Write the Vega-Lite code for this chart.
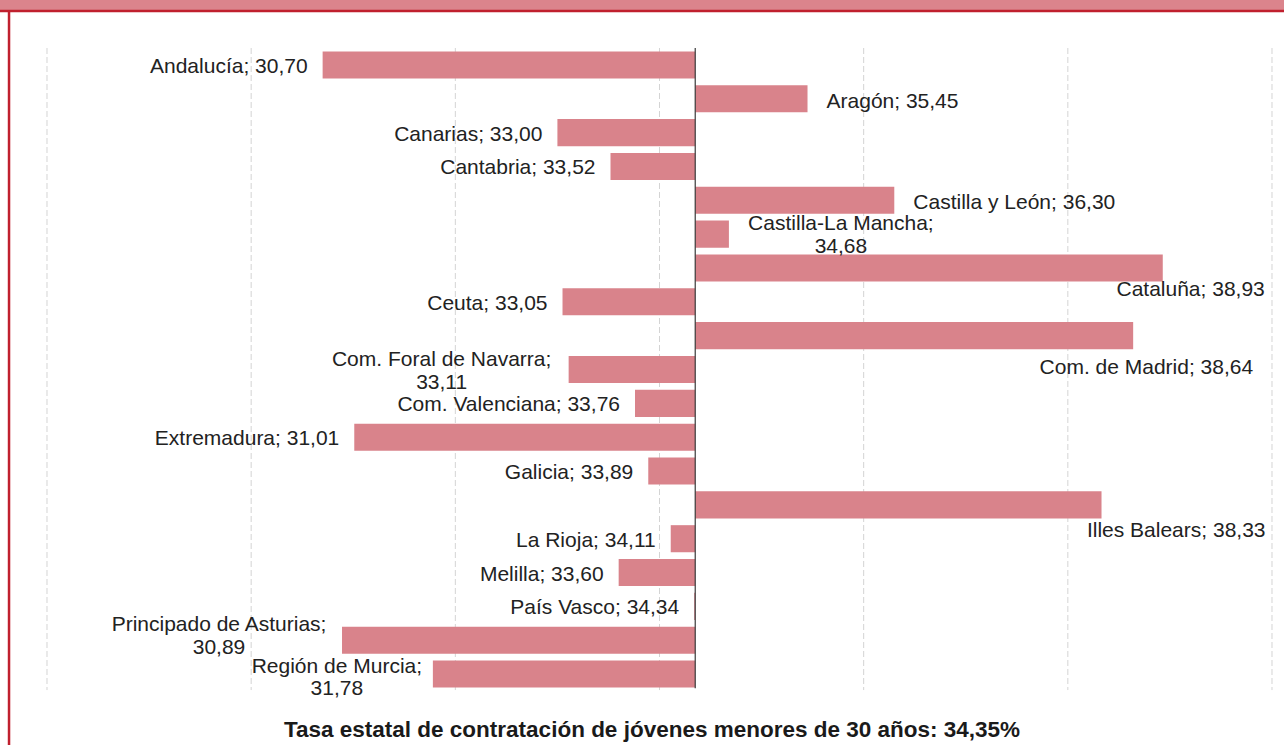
{
  "$schema": "https://vega.github.io/schema/vega-lite/v6.json",
  "width": 1284,
  "height": 734,
  "autosize": {"type": "none"},
  "padding": {"left": 0, "top": 11, "right": 0, "bottom": 0},
  "background": "#db848c",
  "config": {"view": {"fill": "#ffffff", "stroke": null}},
  "title": {
    "text": "Tasa estatal de contratación de jóvenes menores de 30 años: 34,35%",
    "orient": "bottom",
    "offset": -16,
    "baseline": "middle",
    "anchor": "middle",
    "frame": "group",
    "dx": 10,
    "font": "Liberation Sans",
    "fontSize": 22.5,
    "fontWeight": "bold",
    "color": "#1a1a1a"
  },
  "datasets": {
    "regions": [
      {"region": "Andalucía", "value": 30.70, "label": "Andalucía; 30,70"},
      {"region": "Aragón", "value": 35.45, "label": "Aragón; 35,45"},
      {"region": "Canarias", "value": 33.00, "label": "Canarias; 33,00"},
      {"region": "Cantabria", "value": 33.52, "label": "Cantabria; 33,52"},
      {"region": "Castilla y León", "value": 36.30, "label": "Castilla y León; 36,30"},
      {"region": "Castilla-La Mancha", "value": 34.68, "label": "Castilla-La Mancha;\n34,68"},
      {"region": "Cataluña", "value": 38.93, "label": "Cataluña; 38,93"},
      {"region": "Ceuta", "value": 33.05, "label": "Ceuta; 33,05"},
      {"region": "Com. de Madrid", "value": 38.64, "label": "Com. de Madrid; 38,64"},
      {"region": "Com. Foral de Navarra", "value": 33.11, "label": "Com. Foral de Navarra;\n33,11"},
      {"region": "Com. Valenciana", "value": 33.76, "label": "Com. Valenciana; 33,76"},
      {"region": "Extremadura", "value": 31.01, "label": "Extremadura; 31,01"},
      {"region": "Galicia", "value": 33.89, "label": "Galicia; 33,89"},
      {"region": "Illes Balears", "value": 38.33, "label": "Illes Balears; 38,33"},
      {"region": "La Rioja", "value": 34.11, "label": "La Rioja; 34,11"},
      {"region": "Melilla", "value": 33.60, "label": "Melilla; 33,60"},
      {"region": "País Vasco", "value": 34.34, "label": "País Vasco; 34,34"},
      {"region": "Principado de Asturias", "value": 30.89, "label": "Principado de Asturias;\n30,89"},
      {"region": "Región de Murcia", "value": 31.78, "label": "Región de Murcia;\n31,78"}
    ],
    "grid": [{"g": 28}, {"g": 30}, {"g": 32}, {"g": 34}, {"g": 36}, {"g": 38}, {"g": 40}]
  },
  "data": {"name": "regions"},
  "layer": [
    {
      "data": {"name": "grid"},
      "mark": {"type": "rule", "stroke": "#d4d4d4", "strokeWidth": 1, "strokeDash": [6, 3]},
      "encoding": {
        "x": {"field": "g", "type": "quantitative", "axis": null, "scale": {"domain": [27.5396, 40.1176], "nice": false, "zero": false}},
        "y": {"datum": "Andalucía", "type": "nominal", "bandPosition": -0.125, "axis": null, "scale": {"domain": ["Andalucía", "Aragón", "Canarias", "Cantabria", "Castilla y León", "Castilla-La Mancha", "Cataluña", "Ceuta", "Com. de Madrid", "Com. Foral de Navarra", "Com. Valenciana", "Extremadura", "Galicia", "Illes Balears", "La Rioja", "Melilla", "País Vasco", "Principado de Asturias", "Región de Murcia"], "range": [37, 680], "paddingInner": 0.2, "paddingOuter": 0.1}},
        "y2": {"datum": "Región de Murcia", "bandPosition": 1.09}
      }
    },
    {
      "data": {"values": [{}]},
      "mark": {"type": "rule", "stroke": "#c0202e", "strokeWidth": 2.5},
      "encoding": {
        "x": {"datum": 27.628, "type": "quantitative", "axis": null, "scale": {"domain": [27.5396, 40.1176], "nice": false, "zero": false}}
      }
    },
    {
      "data": {"values": [{}]},
      "mark": {"type": "rule", "stroke": "#c0202e", "strokeWidth": 2.5},
      "encoding": {
        "y": {"datum": "Andalucía", "type": "nominal", "bandPosition": -1.492, "axis": null, "scale": {"domain": ["Andalucía", "Aragón", "Canarias", "Cantabria", "Castilla y León", "Castilla-La Mancha", "Cataluña", "Ceuta", "Com. de Madrid", "Com. Foral de Navarra", "Com. Valenciana", "Extremadura", "Galicia", "Illes Balears", "La Rioja", "Melilla", "País Vasco", "Principado de Asturias", "Región de Murcia"], "range": [37, 680], "paddingInner": 0.2, "paddingOuter": 0.1}}
      }
    },
    {
      "mark": {"type": "bar", "color": "#d9838b"},
      "encoding": {
        "x": {"field": "value", "type": "quantitative", "axis": null, "scale": {"domain": [27.5396, 40.1176], "nice": false, "zero": false}},
        "x2": {"datum": 34.35},
        "y": {"field": "region", "type": "nominal", "sort": null, "axis": null, "scale": {"domain": ["Andalucía", "Aragón", "Canarias", "Cantabria", "Castilla y León", "Castilla-La Mancha", "Cataluña", "Ceuta", "Com. de Madrid", "Com. Foral de Navarra", "Com. Valenciana", "Extremadura", "Galicia", "Illes Balears", "La Rioja", "Melilla", "País Vasco", "Principado de Asturias", "Región de Murcia"], "range": [37, 680], "paddingInner": 0.2, "paddingOuter": 0.1}}
      }
    },
    {
      "data": {"values": [{}]},
      "mark": {"type": "rule", "stroke": "#3a3a3a", "strokeWidth": 1.2},
      "encoding": {
        "x": {"datum": 34.35, "type": "quantitative", "axis": null, "scale": {"domain": [27.5396, 40.1176], "nice": false, "zero": false}},
        "y": {"datum": "Andalucía", "type": "nominal", "bandPosition": -0.125, "axis": null, "scale": {"domain": ["Andalucía", "Aragón", "Canarias", "Cantabria", "Castilla y León", "Castilla-La Mancha", "Cataluña", "Ceuta", "Com. de Madrid", "Com. Foral de Navarra", "Com. Valenciana", "Extremadura", "Galicia", "Illes Balears", "La Rioja", "Melilla", "País Vasco", "Principado de Asturias", "Región de Murcia"], "range": [37, 680], "paddingInner": 0.2, "paddingOuter": 0.1}},
        "y2": {"datum": "Región de Murcia", "bandPosition": 1.02}
      }
    },
    {
      "transform": [{"filter": {"field": "region", "oneOf": ["Andalucía", "Canarias", "Cantabria", "Ceuta", "Com. Valenciana", "Extremadura", "Galicia", "La Rioja", "Melilla", "País Vasco"]}}],
      "mark": {"type": "text", "align": "right", "baseline": "middle", "dx": -15, "dy": 2, "font": "Liberation Sans", "fontSize": 21, "fill": "#222222"},
      "encoding": {
        "x": {"field": "value", "type": "quantitative", "axis": null, "scale": {"domain": [27.5396, 40.1176], "nice": false, "zero": false}},
        "y": {"field": "region", "type": "nominal", "sort": null, "axis": null, "scale": {"domain": ["Andalucía", "Aragón", "Canarias", "Cantabria", "Castilla y León", "Castilla-La Mancha", "Cataluña", "Ceuta", "Com. de Madrid", "Com. Foral de Navarra", "Com. Valenciana", "Extremadura", "Galicia", "Illes Balears", "La Rioja", "Melilla", "País Vasco", "Principado de Asturias", "Región de Murcia"], "range": [37, 680], "paddingInner": 0.2, "paddingOuter": 0.1}},
        "text": {"field": "label"}
      }
    },
    {
      "transform": [{"filter": {"field": "region", "oneOf": ["Aragón", "Castilla y León"]}}],
      "mark": {"type": "text", "align": "left", "baseline": "middle", "dx": 19, "dy": 3, "font": "Liberation Sans", "fontSize": 21, "fill": "#222222"},
      "encoding": {
        "x": {"field": "value", "type": "quantitative", "axis": null, "scale": {"domain": [27.5396, 40.1176], "nice": false, "zero": false}},
        "y": {"field": "region", "type": "nominal", "sort": null, "axis": null, "scale": {"domain": ["Andalucía", "Aragón", "Canarias", "Cantabria", "Castilla y León", "Castilla-La Mancha", "Cataluña", "Ceuta", "Com. de Madrid", "Com. Foral de Navarra", "Com. Valenciana", "Extremadura", "Galicia", "Illes Balears", "La Rioja", "Melilla", "País Vasco", "Principado de Asturias", "Región de Murcia"], "range": [37, 680], "paddingInner": 0.2, "paddingOuter": 0.1}},
        "text": {"field": "label"}
      }
    },
    {
      "transform": [{"filter": {"field": "region", "equal": "Castilla-La Mancha"}}],
      "mark": {"type": "text", "align": "center", "baseline": "middle", "dx": 112, "dy": -10, "lineBreak": "\n", "lineHeight": 22.5, "font": "Liberation Sans", "fontSize": 21, "fill": "#222222"},
      "encoding": {
        "x": {"field": "value", "type": "quantitative", "axis": null, "scale": {"domain": [27.5396, 40.1176], "nice": false, "zero": false}},
        "y": {"field": "region", "type": "nominal", "sort": null, "axis": null, "scale": {"domain": ["Andalucía", "Aragón", "Canarias", "Cantabria", "Castilla y León", "Castilla-La Mancha", "Cataluña", "Ceuta", "Com. de Madrid", "Com. Foral de Navarra", "Com. Valenciana", "Extremadura", "Galicia", "Illes Balears", "La Rioja", "Melilla", "País Vasco", "Principado de Asturias", "Región de Murcia"], "range": [37, 680], "paddingInner": 0.2, "paddingOuter": 0.1}},
        "text": {"field": "label"}
      }
    },
    {
      "transform": [{"filter": {"field": "region", "equal": "Com. Foral de Navarra"}}],
      "mark": {"type": "text", "align": "center", "baseline": "middle", "dx": -127, "dy": -10, "lineBreak": "\n", "lineHeight": 23, "font": "Liberation Sans", "fontSize": 21, "fill": "#222222"},
      "encoding": {
        "x": {"field": "value", "type": "quantitative", "axis": null, "scale": {"domain": [27.5396, 40.1176], "nice": false, "zero": false}},
        "y": {"field": "region", "type": "nominal", "sort": null, "axis": null, "scale": {"domain": ["Andalucía", "Aragón", "Canarias", "Cantabria", "Castilla y León", "Castilla-La Mancha", "Cataluña", "Ceuta", "Com. de Madrid", "Com. Foral de Navarra", "Com. Valenciana", "Extremadura", "Galicia", "Illes Balears", "La Rioja", "Melilla", "País Vasco", "Principado de Asturias", "Región de Murcia"], "range": [37, 680], "paddingInner": 0.2, "paddingOuter": 0.1}},
        "text": {"field": "label"}
      }
    },
    {
      "transform": [{"filter": {"field": "region", "equal": "Principado de Asturias"}}],
      "mark": {"type": "text", "align": "center", "baseline": "middle", "dx": -123, "dy": -15.5, "lineBreak": "\n", "lineHeight": 23, "font": "Liberation Sans", "fontSize": 21, "fill": "#222222"},
      "encoding": {
        "x": {"field": "value", "type": "quantitative", "axis": null, "scale": {"domain": [27.5396, 40.1176], "nice": false, "zero": false}},
        "y": {"field": "region", "type": "nominal", "sort": null, "axis": null, "scale": {"domain": ["Andalucía", "Aragón", "Canarias", "Cantabria", "Castilla y León", "Castilla-La Mancha", "Cataluña", "Ceuta", "Com. de Madrid", "Com. Foral de Navarra", "Com. Valenciana", "Extremadura", "Galicia", "Illes Balears", "La Rioja", "Melilla", "País Vasco", "Principado de Asturias", "Región de Murcia"], "range": [37, 680], "paddingInner": 0.2, "paddingOuter": 0.1}},
        "text": {"field": "label"}
      }
    },
    {
      "transform": [{"filter": {"field": "region", "equal": "Región de Murcia"}}],
      "mark": {"type": "text", "align": "center", "baseline": "middle", "dx": -96, "dy": -7.5, "lineBreak": "\n", "lineHeight": 22.5, "font": "Liberation Sans", "fontSize": 21, "fill": "#222222"},
      "encoding": {
        "x": {"field": "value", "type": "quantitative", "axis": null, "scale": {"domain": [27.5396, 40.1176], "nice": false, "zero": false}},
        "y": {"field": "region", "type": "nominal", "sort": null, "axis": null, "scale": {"domain": ["Andalucía", "Aragón", "Canarias", "Cantabria", "Castilla y León", "Castilla-La Mancha", "Cataluña", "Ceuta", "Com. de Madrid", "Com. Foral de Navarra", "Com. Valenciana", "Extremadura", "Galicia", "Illes Balears", "La Rioja", "Melilla", "País Vasco", "Principado de Asturias", "Región de Murcia"], "range": [37, 680], "paddingInner": 0.2, "paddingOuter": 0.1}},
        "text": {"field": "label"}
      }
    },
    {
      "transform": [{"filter": {"field": "region", "equal": "Cataluña"}}],
      "mark": {"type": "text", "align": "right", "baseline": "middle", "dx": 102, "dy": 22, "font": "Liberation Sans", "fontSize": 21, "fill": "#222222"},
      "encoding": {
        "x": {"field": "value", "type": "quantitative", "axis": null, "scale": {"domain": [27.5396, 40.1176], "nice": false, "zero": false}},
        "y": {"field": "region", "type": "nominal", "sort": null, "axis": null, "scale": {"domain": ["Andalucía", "Aragón", "Canarias", "Cantabria", "Castilla y León", "Castilla-La Mancha", "Cataluña", "Ceuta", "Com. de Madrid", "Com. Foral de Navarra", "Com. Valenciana", "Extremadura", "Galicia", "Illes Balears", "La Rioja", "Melilla", "País Vasco", "Principado de Asturias", "Región de Murcia"], "range": [37, 680], "paddingInner": 0.2, "paddingOuter": 0.1}},
        "text": {"field": "label"}
      }
    },
    {
      "transform": [{"filter": {"field": "region", "equal": "Com. de Madrid"}}],
      "mark": {"type": "text", "align": "right", "baseline": "middle", "dx": 120, "dy": 32, "font": "Liberation Sans", "fontSize": 21, "fill": "#222222"},
      "encoding": {
        "x": {"field": "value", "type": "quantitative", "axis": null, "scale": {"domain": [27.5396, 40.1176], "nice": false, "zero": false}},
        "y": {"field": "region", "type": "nominal", "sort": null, "axis": null, "scale": {"domain": ["Andalucía", "Aragón", "Canarias", "Cantabria", "Castilla y León", "Castilla-La Mancha", "Cataluña", "Ceuta", "Com. de Madrid", "Com. Foral de Navarra", "Com. Valenciana", "Extremadura", "Galicia", "Illes Balears", "La Rioja", "Melilla", "País Vasco", "Principado de Asturias", "Región de Murcia"], "range": [37, 680], "paddingInner": 0.2, "paddingOuter": 0.1}},
        "text": {"field": "label"}
      }
    },
    {
      "transform": [{"filter": {"field": "region", "equal": "Illes Balears"}}],
      "mark": {"type": "text", "align": "right", "baseline": "middle", "dx": 164, "dy": 26, "font": "Liberation Sans", "fontSize": 21, "fill": "#222222"},
      "encoding": {
        "x": {"field": "value", "type": "quantitative", "axis": null, "scale": {"domain": [27.5396, 40.1176], "nice": false, "zero": false}},
        "y": {"field": "region", "type": "nominal", "sort": null, "axis": null, "scale": {"domain": ["Andalucía", "Aragón", "Canarias", "Cantabria", "Castilla y León", "Castilla-La Mancha", "Cataluña", "Ceuta", "Com. de Madrid", "Com. Foral de Navarra", "Com. Valenciana", "Extremadura", "Galicia", "Illes Balears", "La Rioja", "Melilla", "País Vasco", "Principado de Asturias", "Región de Murcia"], "range": [37, 680], "paddingInner": 0.2, "paddingOuter": 0.1}},
        "text": {"field": "label"}
      }
    }
  ]
}
